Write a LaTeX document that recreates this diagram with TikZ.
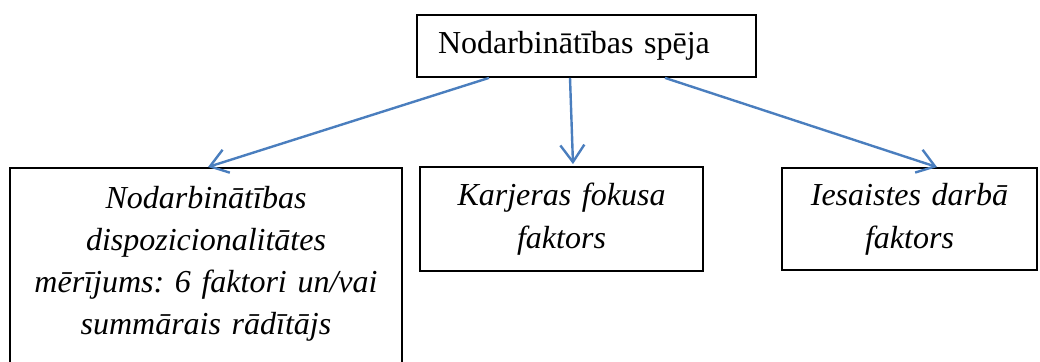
\documentclass[tikz,border=0pt]{standalone}
\usepackage{fontspec}
\setmainfont{Liberation Serif}
\usetikzlibrary{arrows.meta}
\definecolor{linkblue}{RGB}{74,126,190}
\frenchspacing

\begin{document}
\begin{tikzpicture}[x=1pt, y=-1pt,
        box/.style={draw, line width=1.8pt, font=\fontsize{32}{42}\selectfont, align=center, inner sep=0pt},
        link/.style={draw=linkblue, line width=2.4pt, -{Straight Barb[length=17pt, width=24pt]}}]
        \useasboundingbox (0,0) rectangle (1040,361);

        % top box
        \node[box, minimum width=339pt, minimum height=62pt, text width=297pt, align=left] (spea) at (586.5,46) {Nodarbinātības spēja};

        % the three boxes below
        \node[box, anchor=north, text width=392pt, inner ysep=18pt, text depth=260pt, font=\fontsize{32}{42}\selectfont\itshape] (disp) at (206,167)
            {Nodarbinātības\\ dispozicionalitātes\\ mērījums: 6 faktori un/vai\\ summārais rādītājs};
        \node[box, text width=283pt, minimum height=104pt, font=\fontsize{32}{43}\selectfont\itshape] (karj) at (561.5,219) {Karjeras fokusa\\ faktors};
        \node[box, text width=255pt, minimum height=102pt, font=\fontsize{32}{43}\selectfont\itshape] (iesa) at (909.5,219) {Iesaistes darbā\\ faktors};

        \draw[link] ([xshift=-97.5pt]spea.south) -- ([xshift=2pt]disp.north);
        \draw[link] ([xshift=-16.5pt]spea.south) -- ([xshift=11.5pt, yshift=2pt]karj.north);
        \draw[link] ([xshift=78.5pt]spea.south) -- ([xshift=27.5pt]iesa.north);
    \end{tikzpicture}
\end{document}
